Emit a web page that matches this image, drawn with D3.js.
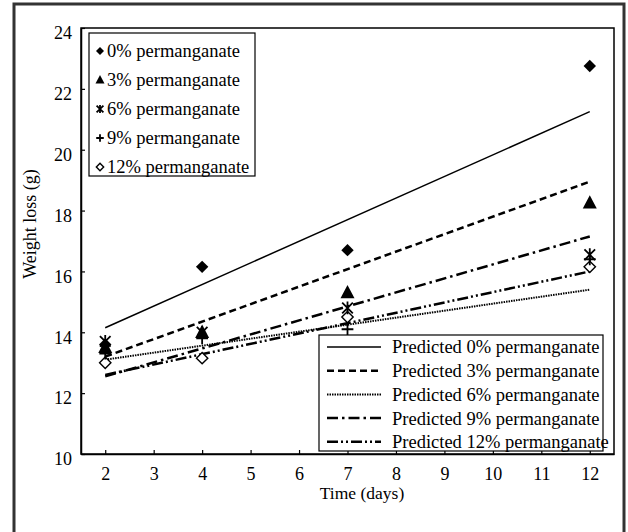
<!DOCTYPE html>
<html>
<head>
<meta charset="utf-8">
<script src="https://cdn.jsdelivr.net/npm/d3@7"></script>
<style>
  body { margin: 0; background: #fff; }
  text { font-family: "Liberation Serif", "Times New Roman", serif; fill: #000; }
</style>
</head>
<body>
<script>

// observed values
var days = [2, 4, 7, 12];
var obs0 = [13.6, 16.15, 16.7, 22.75];
var obs3 = [13.5, 14.0, 15.3, 18.25];
var obs6 = [13.7, 14.0, 14.8, 16.55];
var obs9 = [13.3, 13.8, 14.1, 16.4];
var obs12 = [13.0, 13.15, 14.5, 16.15];

// predicted lines (start at day 2, end at day 12)
var predDays = [2, 12];
var pred0 = [14.15, 21.25];
var pred3 = [13.2, 18.95];
var pred6 = [13.1, 15.4];
var pred9 = [12.55, 17.15];
var pred12 = [12.6, 16.0];

var obsNames = ["0% permanganate", "3% permanganate", "6% permanganate", "9% permanganate", "12% permanganate"];
var predNames = ["Predicted 0% permanganate", "Predicted 3% permanganate", "Predicted 6% permanganate",
                 "Predicted 9% permanganate", "Predicted 12% permanganate"];
var xTicks = [2, 3, 4, 5, 6, 7, 8, 9, 10, 11, 12];
var yTicks = [10, 12, 14, 16, 18, 20, 22, 24];

var W = 628, H = 532;
var margin = {top: 28, right: 14, bottom: 78, left: 81};
var width = W - margin.left - margin.right,
    height = H - margin.top - margin.bottom;

var svg = d3.select("body").append("svg")
    .attr("width", W)
    .attr("height", H);

// outer frame
svg.append("rect")
    .attr("x", 14).attr("y", 4)
    .attr("width", 610).attr("height", 540)
    .attr("fill", "none")
    .attr("stroke", "#333")
    .attr("stroke-width", 3);

var canvas = svg.append("g")
    .attr("transform", "translate(" + margin.left + "," + margin.top + ")");

var x = d3.scaleLinear().domain([1.5, 12.5]).range([0, width]);
var y = d3.scaleLinear().domain([10, 24]).range([height, 0]);

// plot box
canvas.append("rect")
    .attr("width", width).attr("height", height)
    .attr("fill", "none").attr("stroke", "#000").attr("stroke-width", 1.5);

var xAxis = canvas.append("g")
    .attr("transform", "translate(0," + height + ")")
    .call(d3.axisBottom(x).tickValues(xTicks).tickSizeInner(-4).tickSizeOuter(0).tickPadding(13));
var yAxis = canvas.append("g")
    .call(d3.axisLeft(y).tickValues(yTicks).tickSizeInner(-4).tickSizeOuter(0).tickPadding(9));

[xAxis, yAxis].forEach(function(a) {
  a.select(".domain").attr("stroke", "#000").attr("stroke-width", 1.5);
  a.selectAll(".tick line").attr("stroke", "#000").attr("stroke-width", 1.2);
  a.selectAll(".tick text").style("font-family", "Liberation Serif").style("font-size", "18px");
});
yAxis.selectAll(".tick text").attr("dy", "0.6em");

// axis titles
svg.append("text")
    .attr("x", 362).attr("y", 499)
    .attr("text-anchor", "middle")
    .style("font-size", "17.5px")
    .text("Time (days)");
svg.append("text")
    .attr("transform", "translate(36,224) rotate(-90)")
    .attr("text-anchor", "middle")
    .style("font-size", "18px")
    .text("Weight loss (g)");

// predicted lines
var preds = [pred0, pred3, pred6, pred9, pred12];
var styles = [
  {w: 1.5, dash: null},
  {w: 2.5, dash: "7,4"},
  {w: 2, dash: "1.5,1"},
  {w: 2.5, dash: "11,4,2.5,4"},
  {w: 2.5, dash: "11,3,2,3,2,3"}
];

var line = d3.line()
    .x(function(d) { return x(d[0]); })
    .y(function(d) { return y(d[1]); });

preds.forEach(function(p, i) {
  canvas.append("path")
      .datum(d3.zip(predDays, p))
      .attr("d", line)
      .attr("fill", "none")
      .attr("stroke", "#000")
      .attr("stroke-width", styles[i].w)
      .style("stroke-dasharray", styles[i].dash);
});

// marker drawing
function marker(g, type, s) {
  if (type === 0) {
    g.append("path").attr("d", d3.symbol(d3.symbolDiamond2, s * s * 0.5)).attr("fill", "#000");
  } else if (type === 1) {
    g.append("path").attr("d", "M0," + (-s * 0.55) + "L" + (s * 0.5) + "," + (s * 0.4) + "L" + (-s * 0.5) + "," + (s * 0.4) + "Z")
      .attr("fill", "#000");
  } else if (type === 2) {
    var r = s * 0.38;
    g.append("path")
      .attr("d", "M" + (-r) + "," + (-r) + "L" + r + "," + r + "M" + r + "," + (-r) + "L" + (-r) + "," + r + "M0," + (-r * 1.2) + "L0," + (r * 1.2))
      .attr("stroke", "#000").attr("stroke-width", 1.8).attr("fill", "none");
  } else if (type === 3) {
    var q = s * 0.42;
    g.append("path")
      .attr("d", "M" + (-q) + ",0L" + q + ",0M0," + (-q) + "L0," + q)
      .attr("stroke", "#000").attr("stroke-width", 1.8).attr("fill", "none");
  } else {
    g.append("path").attr("d", d3.symbol(d3.symbolDiamond2, s * s * 0.42))
      .attr("fill", "#fff").attr("stroke", "#000").attr("stroke-width", 1.4);
  }
}

var obs = [obs0, obs3, obs6, obs9, obs12];
var drawOrder = [4, 3, 2, 1, 0];
drawOrder.forEach(function(i) {
  d3.zip(days, obs[i]).forEach(function(d) {
    var g = canvas.append("g").attr("transform", "translate(" + x(d[0]) + "," + y(d[1]) + ")");
    marker(g, i, 14);
  });
});

// legend for observed
var leg1 = svg.append("g").attr("transform", "translate(89,33)");
leg1.append("rect").attr("width", 166).attr("height", 143)
    .attr("fill", "#fff").attr("stroke", "#000").attr("stroke-width", 1.2);
obsNames.forEach(function(n, i) {
  var yy = 18 + i * 29;
  var g = leg1.append("g").attr("transform", "translate(11," + yy + ")");
  marker(g, i, 9);
  leg1.append("text").attr("x", 18).attr("y", yy).attr("dy", "0.35em")
      .style("font-size", "18.5px").text(n);
});

// legend for predicted
var leg2 = svg.append("g").attr("transform", "translate(319,335)");
leg2.append("rect").attr("width", 284).attr("height", 116)
    .attr("fill", "#fff").attr("stroke", "#000").attr("stroke-width", 1.2);
predNames.forEach(function(n, i) {
  var yy = 12 + i * 23.7;
  leg2.append("line")
      .attr("x1", 8).attr("x2", 62).attr("y1", yy).attr("y2", yy)
      .attr("stroke", "#000").attr("stroke-width", styles[i].w)
      .style("stroke-dasharray", styles[i].dash);
  leg2.append("text").attr("x", 73).attr("y", yy).attr("dy", "0.35em")
      .style("font-size", "18.5px").text(n);
});
</script>
</body>
</html>
